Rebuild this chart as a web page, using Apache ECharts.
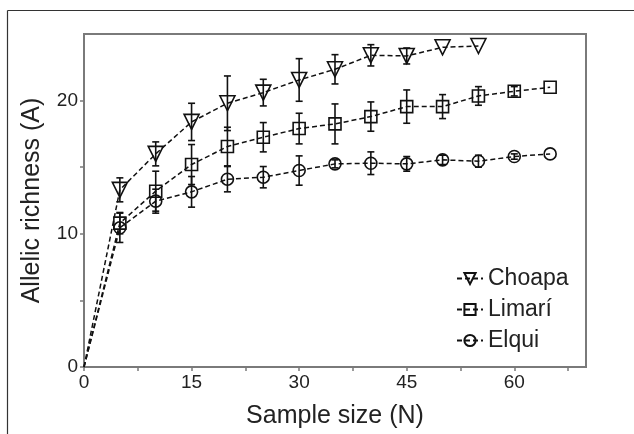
<!DOCTYPE html>
<html>
<head>
<meta charset="utf-8">
<script src="https://cdn.jsdelivr.net/npm/echarts@6/dist/echarts.min.js"></script>
<style>html,body{margin:0;padding:0;background:#fff;}#c{width:634px;height:434px;}</style>
</head>
<body>
<div id="c"></div>
<script>
// ---- data ----
var sampleSizes = [0, 5, 10, 15, 20, 25, 30, 35, 40, 45, 50, 55, 60, 65];
var seriesNames = ['Choapa', 'Limarí', 'Elqui'];
var choapaMean = [0, 13.3, 16.0, 18.4, 19.8, 20.6, 21.55, 22.35, 23.4, 23.35, 24.0, 24.1];
var choapaErr  = [0, 0.9, 0.9, 1.4, 2.05, 1.0, 1.6, 1.1, 0.8, 0.6, 0, 0];
var limariMean = [0, 10.8, 13.2, 15.2, 16.55, 17.25, 17.9, 18.25, 18.8, 19.55, 19.55, 20.35, 20.7, 21.0];
var limariErr  = [0, 0.8, 1.5, 1.5, 1.45, 1.1, 1.15, 1.5, 1.1, 1.25, 0.9, 0.7, 0.35, 0];
var elquiMean  = [0, 10.45, 12.45, 13.15, 14.1, 14.25, 14.75, 15.25, 15.3, 15.25, 15.55, 15.45, 15.8, 16.0];
var elquiErr   = [0, 1.1, 0.9, 1.15, 0.95, 0.8, 1.1, 0.3, 0.85, 0.55, 0.35, 0.45, 0.2, 0];
var xLabelTicks = [0, 15, 30, 45, 60];
var xTickValues = [0, 7.5, 15, 22.5, 30, 37.5, 45, 52.5, 60, 67.5];
var yLabelTicks = [0, 10, 20];
var yTickValues = [0, 5, 10, 15, 20];

var means = [choapaMean, limariMean, elquiMean];
var errs = [choapaErr, limariErr, elquiErr];
var symbols = ['triangle', 'rect', 'circle'];
var symbolSizes = [15, 12, 12];
var symbolRotates = [180, 0, 0];

var FONT = '"Liberation Sans", Arial, sans-serif';
var chart = echarts.init(document.getElementById('c'), null, {renderer: 'canvas'});

var series = [];
means.forEach(function (m, si) {
  var pts = m.map(function (v, i) {
    var item = {value: [sampleSizes[i], v]};
    if (i === 0) item.symbol = 'none';
    return item;
  });
  var errData = [];
  m.forEach(function (v, i) {
    if (errs[si][i] > 0) errData.push([sampleSizes[i], v, errs[si][i]]);
  });
  series.push({
    type: 'custom',
    name: seriesNames[si] + '_err',
    data: errData,
    encode: {x: 0, y: 1},
    z: 2,
    silent: true,
    renderItem: function (params, api) {
      var x = api.value(0), y = api.value(1), e = api.value(2);
      var top = api.coord([x, y + e]);
      var bot = api.coord([x, y - e]);
      var hw = 3.5;
      var st = {stroke: '#111', lineWidth: 1.6};
      return {
        type: 'group',
        children: [
          {type: 'line', shape: {x1: top[0], y1: top[1], x2: bot[0], y2: bot[1]}, style: st},
          {type: 'line', shape: {x1: top[0] - hw, y1: top[1], x2: top[0] + hw, y2: top[1]}, style: st},
          {type: 'line', shape: {x1: bot[0] - hw, y1: bot[1], x2: bot[0] + hw, y2: bot[1]}, style: st}
        ]
      };
    }
  });
  series.push({
    type: 'line',
    name: seriesNames[si],
    data: pts,
    z: 3,
    symbol: symbols[si],
    symbolSize: symbolSizes[si],
    symbolRotate: symbolRotates[si],
    showAllSymbol: true,
    lineStyle: {color: '#111', width: 1.5, type: [5, 3]},
    itemStyle: {color: 'rgba(255,255,255,0)', borderColor: '#111', borderWidth: 1.6},
    emphasis: {disabled: true},
    animation: false
  });
});

var option = {
  animation: false,
  backgroundColor: '#fff',
  grid: {left: 84, right: 48, top: 34, bottom: 66, show: true, borderColor: '#7a7a7a', borderWidth: 2, backgroundColor: 'transparent'},
  legend: {
    data: seriesNames,
    orient: 'vertical',
    left: 451,
    top: 262,
    itemWidth: 26,
    itemHeight: 14,
    itemGap: 8,
    textStyle: {fontFamily: FONT, fontSize: 23, color: '#222'},
    inactiveColor: '#222'
  },
  xAxis: {
    type: 'value',
    min: 0, max: 70,
    name: 'Sample size (N)',
    nameLocation: 'middle',
    nameGap: 37,
    nameTextStyle: {fontFamily: FONT, fontSize: 25, color: '#222'},
    axisLine: {show: true, lineStyle: {color: '#7a7a7a', width: 2}},
    axisTick: {show: true, customValues: xTickValues, length: 4, lineStyle: {color: '#7a7a7a', width: 1.5}},
    axisLabel: {customValues: xLabelTicks, fontFamily: FONT, fontSize: 19, color: '#222', margin: 6},
    splitLine: {show: false}
  },
  yAxis: {
    type: 'value',
    min: 0, max: 25,
    name: 'Allelic richness (A)',
    nameLocation: 'middle',
    nameGap: 39,
    nameTextStyle: {fontFamily: FONT, fontSize: 25, color: '#222'},
    axisLine: {show: true, lineStyle: {color: '#7a7a7a', width: 2}},
    axisTick: {show: true, customValues: yTickValues, length: 4, lineStyle: {color: '#7a7a7a', width: 1.5}},
    axisLabel: {customValues: yLabelTicks, fontFamily: FONT, fontSize: 19, color: '#222', margin: 6},
    splitLine: {show: false}
  },
  graphic: [
    {type: 'line', shape: {x1: 7.5, y1: 10.5, x2: 634, y2: 10.5}, style: {stroke: '#333', lineWidth: 1.2}, silent: true},
    {type: 'line', shape: {x1: 7.5, y1: 10.5, x2: 7.5, y2: 434}, style: {stroke: '#333', lineWidth: 1.2}, silent: true}
  ],
  series: series
};
chart.setOption(option);
</script>
</body>
</html>
